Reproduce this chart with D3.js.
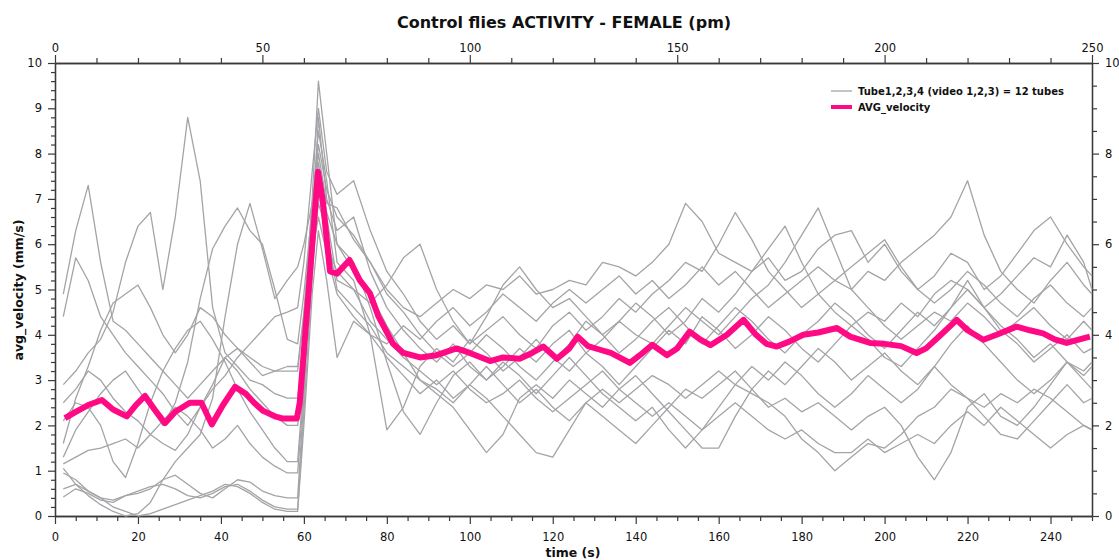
<!DOCTYPE html>
<html>
<head>
<meta charset="utf-8">
<script src="https://cdn.jsdelivr.net/npm/d3@7"></script>
<style>
  body { margin: 0; background: #ffffff; }
  svg { display: block; }
  text { font-family: "DejaVu Sans", Verdana, sans-serif; fill: #111; }
</style>
</head>
<body>
<svg id="chart" width="1119" height="560"></svg>
<script>
// Sampling times (s) shared by the twelve tube traces
const time = [2,5,8,11,14,17,20,23,26,29,32,35,38,41,44,47,50,53,56,
  58.5,60,62,63.5,65.5,
  68,72,76,80,84,88,92,96,100,104,108,112,116,120,124,128,132,136,140,144,148,152,156,
  160,164,168,172,176,180,184,188,192,196,200,204,208,212,216,220,224,228,232,236,240,244,248,250];

// Per-tube velocity traces (mm/s): Tube1-4 of videos 1-3
const tube01 = [4.9,6.3,7.3,5.6,4.3,4.1,3.8,3.5,3.2,2.9,2.6,2.9,3.2,3.5,3.7,3.4,3.1,3.2,3.3,
  3.3,4.5,6.6,8.2,7.2,
  6.6,6.2,5.6,5.0,4.6,4.4,4.7,5.0,4.8,5.1,5.0,5.3,4.9,5.0,5.2,5.1,5.6,5.5,5.3,5.6,6.0,6.9,6.5,
  5.8,5.6,5.4,5.7,5.2,5.4,5.9,6.2,6.3,5.6,6.0,5.4,5.0,5.3,5.8,5.6,5.0,5.3,5.8,6.3,6.6,6.0,5.5,5.3];
const tube02 = [4.4,5.7,5.2,4.4,4.0,3.6,3.3,3.0,2.7,2.3,2.0,2.4,2.8,3.1,3.5,3.8,4.1,4.4,4.5,
  4.6,5.6,7.6,9.0,7.6,
  7.1,7.4,6.3,5.4,4.9,4.3,3.9,4.2,3.8,4.1,4.4,4.0,3.7,4.2,4.5,4.1,4.4,4.8,4.5,4.9,5.2,5.6,5.4,
  6.0,6.7,6.1,5.4,5.0,4.6,4.9,5.2,5.0,5.4,5.2,5.6,5.9,6.2,6.6,7.4,6.2,5.4,5.0,4.7,5.2,5.6,5.1,4.9];
const tube03 = [2.9,3.2,3.6,3.9,4.5,5.6,6.4,6.7,5.0,6.6,8.8,7.4,4.6,3.6,3.3,3.0,2.9,2.7,2.6,
  2.6,3.8,6.0,7.5,6.6,
  5.2,5.0,4.7,5.1,5.7,6.0,5.0,4.3,3.8,4.4,5.1,5.5,5.0,4.6,4.8,4.4,4.0,4.3,4.7,4.4,4.0,4.3,4.8,
  4.5,4.9,5.4,5.9,6.4,5.6,4.9,4.5,4.2,4.5,4.3,4.7,4.4,4.9,5.2,5.0,4.6,4.9,5.3,5.7,5.5,6.2,5.6,5.0];
const tube04 = [1.6,2.6,3.3,4.1,4.7,4.9,5.1,4.6,4.0,3.6,4.0,4.6,4.4,4.0,3.7,3.5,3.3,3.2,3.2,
  3.2,4.4,7.0,9.6,8.0,
  6.0,5.6,4.6,3.4,2.3,1.8,2.5,3.1,3.4,3.0,3.3,3.7,3.4,3.8,4.1,3.6,3.9,4.3,4.0,3.8,4.2,4.6,4.3,
  4.0,4.4,4.8,5.1,5.6,6.2,6.8,5.9,5.0,4.6,4.2,3.9,4.2,4.5,4.3,4.7,4.4,4.0,4.3,4.6,4.2,3.9,4.3,4.1];
const tube05 = [1.3,1.9,2.3,2.7,3.0,3.2,2.8,2.4,2.0,2.5,3.4,4.8,5.9,6.4,6.8,6.3,6.0,5.0,3.9,
  3.8,4.9,6.8,8.5,7.4,
  5.6,5.2,4.0,1.9,2.4,3.3,3.7,3.4,3.9,3.6,3.2,3.5,3.9,3.5,3.2,3.6,3.3,2.9,3.3,3.7,4.1,3.8,4.4,
  4.1,3.7,4.0,4.4,4.1,3.7,3.4,3.8,4.2,3.9,3.5,3.3,3.7,4.1,4.6,5.2,4.6,4.1,3.8,3.4,3.7,4.0,3.6,3.7];
const tube06 = [1.05,0.7,0.45,0.25,0.1,0.0,0.05,0.3,0.8,1.2,1.5,1.8,2.6,4.4,6.0,6.9,5.9,4.8,5.2,
  5.5,6.0,6.9,7.8,6.7,
  6.0,5.4,4.9,4.2,3.6,3.0,2.7,2.4,1.9,1.4,1.8,2.6,2.9,2.6,3.0,2.7,2.4,2.8,3.1,2.7,2.3,1.9,1.5,
  1.5,2.2,2.8,3.2,2.9,3.3,3.7,3.4,3.0,3.3,3.6,3.2,2.9,3.3,3.8,4.2,3.8,3.4,3.0,2.7,3.0,3.4,3.1,3.3];
const tube07 = [2.1,2.5,2.4,2.0,1.2,0.85,1.6,2.5,3.2,3.7,4.1,4.3,3.9,3.4,2.8,2.3,1.9,1.5,1.2,
  1.2,3.0,5.6,6.9,6.3,
  5.0,4.6,4.2,3.6,3.3,3.0,2.8,2.5,2.9,2.6,2.2,1.8,1.4,1.3,1.9,2.5,2.8,2.5,2.8,3.1,2.9,2.6,2.9,
  3.2,2.9,2.7,2.5,2.2,1.7,1.4,1.0,1.3,1.6,1.5,1.8,2.2,2.4,2.8,2.6,2.4,2.7,2.5,2.8,2.6,2.3,2.0,1.9];
const tube08 = [2.5,2.8,3.2,3.0,2.6,2.3,2.1,1.8,1.6,1.45,1.8,2.4,2.9,3.5,3.2,2.8,2.5,2.2,2.0,
  2.0,3.4,5.8,6.6,5.8,
  4.9,4.4,4.0,3.5,3.1,2.7,3.0,2.6,2.9,3.3,2.9,2.5,2.8,2.4,2.1,2.5,2.2,1.9,1.6,2.0,2.4,2.8,2.6,
  2.9,3.2,2.8,2.4,2.6,2.3,2.5,2.2,1.9,2.2,2.4,2.0,1.3,0.8,1.4,2.4,2.7,2.2,2.0,2.4,2.9,3.4,3.0,2.8];
const tube09 = [0.95,0.8,0.55,0.4,0.35,0.45,0.5,0.6,0.8,0.9,0.7,0.5,0.4,0.6,0.8,0.75,0.55,0.45,0.4,
  0.4,2.6,6.2,8.8,7.0,
  6.3,6.6,5.4,4.6,4.1,3.7,3.4,3.8,3.3,3.0,3.4,3.1,2.7,3.1,3.5,3.1,2.7,2.4,2.1,2.4,1.9,1.5,1.9,
  2.4,2.9,3.3,3.0,3.4,3.1,2.7,2.4,2.7,3.1,2.8,2.5,2.8,3.3,2.9,2.6,2.2,1.8,1.7,2.1,2.5,2.9,2.5,2.6];
const tube10 = [0.42,0.6,0.5,0.35,0.3,0.45,0.55,0.65,0.7,0.6,0.45,0.4,0.5,0.65,0.7,0.55,0.35,0.2,0.15,
  0.15,2.3,5.3,7.2,6.0,
  5.4,5.0,4.3,3.9,3.5,3.2,2.9,3.2,2.8,2.5,2.7,3.0,2.6,2.3,2.6,2.9,3.2,2.8,2.5,2.2,2.5,2.2,1.9,
  2.2,2.5,2.2,1.9,1.7,1.9,1.6,1.4,1.4,1.7,1.4,1.6,1.8,1.6,2.0,2.3,2.0,2.4,2.1,1.8,1.5,1.8,2.0,1.9];
const tube11 = [0.6,0.7,0.55,0.4,0.2,0.1,0.0,0.05,0.15,0.25,0.35,0.45,0.55,0.7,0.65,0.5,0.3,0.15,0.1,
  0.1,2.0,4.9,6.3,5.2,
  3.5,4.3,4.0,3.8,4.2,3.9,4.3,4.6,4.2,4.5,4.9,4.6,4.3,4.7,5.0,4.7,5.0,5.3,4.9,5.2,4.8,5.1,5.5,
  5.1,5.4,5.0,4.6,4.9,5.2,5.5,5.2,5.5,5.8,6.1,5.5,5.0,4.7,5.0,5.4,5.1,4.7,4.4,4.8,5.1,4.7,4.4,4.6];
const tube12 = [1.15,1.3,1.45,1.5,1.6,1.7,1.5,1.8,2.1,2.4,2.2,1.9,1.5,1.7,2.0,1.6,1.3,1.1,0.95,
  0.95,2.8,6.4,8.0,6.9,
  6.8,6.1,5.6,4.9,4.5,4.0,3.6,3.3,3.6,4.0,3.7,3.3,3.0,3.4,3.8,4.3,4.0,3.6,3.9,4.3,4.6,4.2,3.8,
  4.2,4.6,4.3,3.9,3.6,4.0,4.3,4.7,4.4,4.0,3.7,4.1,4.5,4.2,4.6,5.0,4.6,4.2,3.9,3.5,3.8,3.4,3.2,3.4];

const tubes = [tube01, tube02, tube03, tube04, tube05, tube06,
               tube07, tube08, tube09, tube10, tube11, tube12];

// Average velocity across the twelve tubes
const avgTime = [2.4,5,8,11.3,14,17.3,19.5,21.7,24,26.5,29,32.5,35.3,37.8,40.5,43.4,46,48,50.2,53,55,58.3,
  59,61,63.4,64.5,66.3,68,71,73.5,75.9,78,81.5,84,88,92,96.8,100,104.9,108,112,115,117.7,121,124,126,128.5,
  131.4,134,138.6,141,144,147.5,150,153,155.5,158,162,166,169,171.5,174,177,180.4,184,188.5,191.7,196.5,
  200,204,207.7,210,213,217.4,220,223.8,227,231.8,235,238.2,241,243.9,247,249.5];
const avgVelocity = [2.16,2.3,2.45,2.56,2.35,2.2,2.45,2.65,2.35,2.05,2.3,2.5,2.5,2.02,2.45,2.85,2.7,2.5,2.32,2.2,2.15,2.15,
  2.5,4.8,7.6,7.0,5.4,5.35,5.65,5.2,4.92,4.4,3.8,3.6,3.5,3.55,3.7,3.6,3.42,3.5,3.47,3.6,3.74,3.47,3.7,3.96,3.75,
  3.67,3.6,3.38,3.55,3.78,3.55,3.7,4.07,3.9,3.77,4.0,4.33,4.0,3.8,3.74,3.85,4.0,4.05,4.15,3.96,3.82,
  3.8,3.75,3.6,3.7,3.95,4.33,4.1,3.89,4.0,4.18,4.1,4.03,3.9,3.82,3.9,3.96];

// Axis tick labels
const bottomTicks = [0,20,40,60,80,100,120,140,160,180,200,220,240];
const topTicks = [0,50,100,150,200,250];
const leftTicks = [0,1,2,3,4,5,6,7,8,9,10];
const rightTicks = [0,2,4,6,8,10];

const titleText = "Control flies ACTIVITY - FEMALE (pm)";
const xLabel = "time (s)";
const yLabel = "avg_velocity (mm/s)";
const legendLabels = ["Tube1,2,3,4 (video 1,2,3) = 12 tubes", "AVG_velocity"];

const grayColor = "#a4a4a8";
const pinkColor = "#ff0a84";
const axisColor = "#3a3a3a";

const svg = d3.select("#chart");
const x = d3.scaleLinear().domain([0, 250]).range([55, 1092]);
const y = d3.scaleLinear().domain([0, 10]).range([516, 63]);

// Minor tick positions
const minorBottom = d3.range(0, 251, 5).filter(v => v % 20 !== 0);
const minorTop = d3.range(0, 251, 10).filter(v => v % 50 !== 0);
const minorLeft = d3.range(0, 10.001, 0.2).map(v => +v.toFixed(1)).filter(v => Math.abs(v - Math.round(v)) > 1e-6);
const minorRight = d3.range(0, 10.001, 0.5).filter(v => v % 2 !== 0);

function styleAxis(g) {
  g.select(".domain").attr("stroke", axisColor).attr("stroke-width", 1.3);
  g.selectAll(".tick line").attr("stroke", axisColor).attr("stroke-width", 1.2);
  g.selectAll(".tick text").attr("font-size", "11.5px").attr("fill", "#1a1a1a")
    .attr("font-family", "'DejaVu Sans', Verdana, sans-serif");
}

// Minor ticks first, majors on top
svg.append("g").attr("transform", "translate(0,516)")
  .call(d3.axisBottom(x).tickValues(minorBottom).tickSize(5).tickSizeOuter(0).tickFormat(""))
  .call(styleAxis);
svg.append("g").attr("transform", "translate(0,63)")
  .call(d3.axisTop(x).tickValues(minorTop).tickSize(5).tickSizeOuter(0).tickFormat(""))
  .call(styleAxis);
svg.append("g").attr("transform", "translate(55,0)")
  .call(d3.axisLeft(y).tickValues(minorLeft).tickSize(4).tickSizeOuter(0).tickFormat(""))
  .call(styleAxis);
svg.append("g").attr("transform", "translate(1092,0)")
  .call(d3.axisRight(y).tickValues(minorRight).tickSize(5).tickSizeOuter(0).tickFormat(""))
  .call(styleAxis);

svg.append("g").attr("transform", "translate(0,516)")
  .call(d3.axisBottom(x).tickValues(bottomTicks).tickSize(8).tickSizeOuter(0).tickPadding(9).tickFormat(d3.format("d")))
  .call(styleAxis);
svg.append("g").attr("transform", "translate(0,63)")
  .call(d3.axisTop(x).tickValues(topTicks).tickSize(8).tickSizeOuter(0).tickPadding(3).tickFormat(d3.format("d")))
  .call(styleAxis);
svg.append("g").attr("transform", "translate(55,0)")
  .call(d3.axisLeft(y).tickValues(leftTicks).tickSize(7).tickSizeOuter(0).tickPadding(6).tickFormat(d3.format("d")))
  .call(styleAxis);
svg.append("g").attr("transform", "translate(1092,0)")
  .call(d3.axisRight(y).tickValues(rightTicks).tickSize(7).tickSizeOuter(0).tickPadding(6).tickFormat(d3.format("d")))
  .call(styleAxis);

// Tube traces
const line = d3.line().x(d => x(d[0])).y(d => y(d[1])).curve(d3.curveLinear);
const plot = svg.append("g");
plot.selectAll("path.tube")
  .data(tubes)
  .join("path")
  .attr("class", "tube")
  .attr("fill", "none")
  .attr("stroke", grayColor)
  .attr("stroke-width", 1.3)
  .attr("stroke-linejoin", "round")
  .attr("d", vals => line(vals.map((v, i) => [time[i], v]).filter(d => d[0] !== undefined)));

// Average trace
plot.append("path")
  .attr("fill", "none")
  .attr("stroke", pinkColor)
  .attr("stroke-width", 6)
  .attr("stroke-linejoin", "round")
  .attr("d", line(avgVelocity.map((v, i) => [avgTime[i], v])));

// Title
svg.append("text")
  .attr("x", 564).attr("y", 28)
  .attr("text-anchor", "middle")
  .attr("font-size", "16px").attr("font-weight", "bold")
  .text(titleText);

// Axis titles
svg.append("text")
  .attr("x", 573).attr("y", 557)
  .attr("text-anchor", "middle")
  .attr("font-size", "12.5px").attr("font-weight", "bold")
  .text(xLabel);
svg.append("text")
  .attr("transform", "translate(23,290) rotate(-90)")
  .attr("text-anchor", "middle")
  .attr("font-size", "12.5px").attr("font-weight", "bold")
  .text(yLabel);

// Legend
const legend = svg.append("g");
const legendItems = [
  {label: legendLabels[0], color: "#c4c4c6", width: 2, y: 91},
  {label: legendLabels[1], color: pinkColor, width: 4, y: 107}
];
legendItems.forEach(item => {
  legend.append("line")
    .attr("x1", 831).attr("x2", 852)
    .attr("y1", item.y).attr("y2", item.y)
    .attr("stroke", item.color).attr("stroke-width", item.width);
  legend.append("text")
    .attr("x", 858).attr("y", item.y + 4)
    .attr("font-size", "10px").attr("font-weight", "bold")
    .text(item.label);
});
</script>
</body>
</html>
